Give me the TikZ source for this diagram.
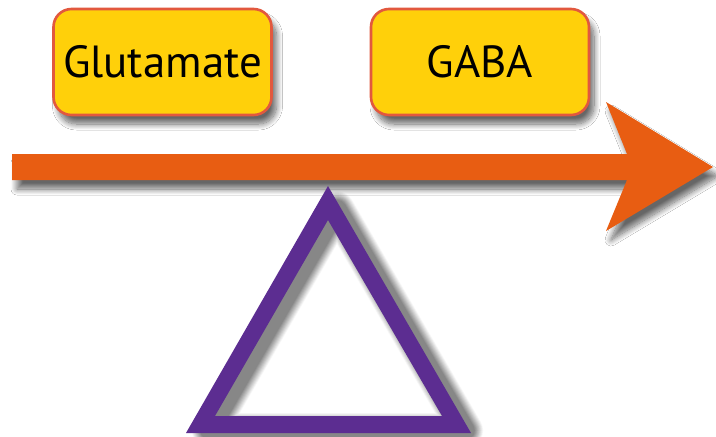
\documentclass[tikz,border=0pt]{standalone}
\usepackage{fontspec}
\setsansfont{PT Sans}
\usetikzlibrary{shadows.blur}
\definecolor{boxfill}{HTML}{FFD00A}
\definecolor{boxedge}{HTML}{E2583E}
\definecolor{arroworange}{HTML}{E85D12}
\definecolor{fulcrum}{HTML}{5C2D91}
\tikzset{
  softshadow/.style={blur shadow={shadow xshift=5pt, shadow yshift=-9pt,
      shadow blur radius=6pt, shadow blur steps=12, shadow opacity=60}},
  labelbox/.style={draw=boxedge, line width=2.6pt, fill=boxfill,
      rounded corners=18pt, minimum width=218pt, minimum height=106pt,
      font=\sffamily\fontsize{45}{45}\selectfont, text=black, softshadow},
}
\begin{document}
\begin{tikzpicture}[x=1pt,y=-1pt]
  \useasboundingbox[fill=white] (0,0) rectangle (716,437);

  % soft shadow of the fulcrum, built from stacked strokes
  \begin{scope}[shift={(9,6)}, line join=round]
    \foreach \k in {0,...,11}{
      \pgfmathsetmacro\wd{35-1.5*\k}
      \pgfmathsetmacro\sh{3+4*\k}
      \draw[black!\sh, line width=\wd pt]
        (328,203) -- (456.5,424.5) -- (200.5,424.5) -- cycle;
    }
  \end{scope}

  % neurotransmitter labels
  \node[labelbox] (glu) at (162.5,62) {Glutamate};
  \node[labelbox] (gaba) at (480,62) {GABA};

  % the balance beam drawn as an arrow
  \fill[arroworange, softshadow]
    (12,154) -- (627,154) -- (606,102) -- (713,167) -- (606,231)
    -- (627,180) -- (12,180) -- cycle;

  % fulcrum: an open triangle
  \fill[fulcrum, even odd rule]
    (328,186) -- (471,433) -- (186,433) -- cycle
    (328,220) -- (442,416) -- (215,416) -- cycle;
\end{tikzpicture}
\end{document}
